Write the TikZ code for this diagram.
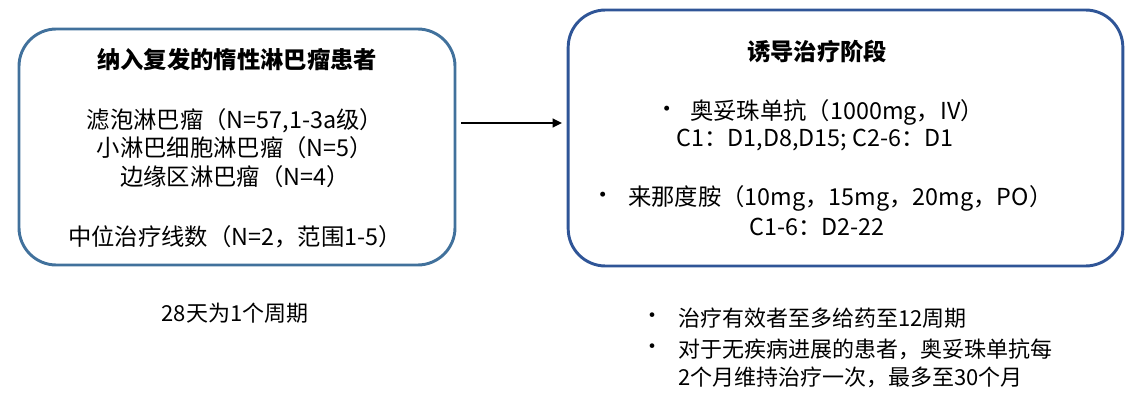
\documentclass[tikz,border=0pt]{standalone}
\usepackage{fontspec}
\setmainfont{Noto Sans CJK SC}
\usetikzlibrary{arrows.meta}
\definecolor{enrollblue}{RGB}{65,113,156}
\definecolor{inductblue}{RGB}{47,85,151}
\tikzset{
  phasebox/.style={draw, line width=2.2pt, rounded corners=28pt, inner sep=0pt},
  headtext/.style={font=\fontsize{17.5}{21}\selectfont\bfseries, inner sep=0pt},
  bodytext/.style={font=\fontsize{17.5}{21.4}\selectfont, inner sep=0pt, align=center},
  notetext/.style={font=\fontsize{16.5}{20}\selectfont, inner sep=0pt}
}
\begin{document}
\begin{tikzpicture}[x=0.75pt,y=-0.75pt]
\useasboundingbox (0,0) rectangle (1144,410);

% Boxes
\node[phasebox, enrollblue, minimum width=327pt, minimum height=177pt] (enroll) at (237,147) {};
\node[phasebox, inductblue, minimum width=416pt, minimum height=192pt] (induct) at (845.5,138) {};

% Left box text
\node[headtext] (enrollTitle) at (237,60) {纳入复发的惰性淋巴瘤患者};
\node[bodytext] (enrollTypes) at (235,148) {滤泡淋巴瘤（N=57,1-3a级）\\小淋巴细胞淋巴瘤（N=5）\\边缘区淋巴瘤（N=4）};
\node[bodytext] (enrollLines) at (235,237) {中位治疗线数（N=2，范围1-5）};

% Arrow
\coordinate (arrStart) at (461,123);
\coordinate (arrEnd) at (562,123);
\draw[line width=1.6pt, -{Triangle[length=7pt,width=6.5pt]}] (arrStart) -- (arrEnd);

% Right box text
\node[headtext] (inductTitle) at (817,52) {诱导治疗阶段};
\node[bodytext] (dotA) at (667,112) {•};
\node[bodytext, anchor=west] (drugA) at (690,112) {奥妥珠单抗（1000mg，IV）};
\node[bodytext] (drugAdays) at (815,140) {C1：D1,D8,D15; C2-6：D1};
\node[bodytext] (dotB) at (603,198) {•};
\node[bodytext, anchor=west] (drugB) at (628,198) {来那度胺（10mg，15mg，20mg，PO）};
\node[bodytext] (drugBdays) at (817,227) {C1-6：D2-22};

% Notes below
\node[notetext] (cycle) at (235,313) {28天为1个周期};
\node[notetext] (dotC) at (652,318) {•};
\node[notetext, anchor=west] (noteA) at (678,318) {治疗有效者至多给药至12周期};
\node[notetext] (dotD) at (652,349) {•};
\node[notetext, anchor=west] (noteB) at (678,349) {对于无疾病进展的患者，奥妥珠单抗每};
\node[notetext, anchor=west] (noteC) at (678,377) {2个月维持治疗一次，最多至30个月};

\end{tikzpicture}
\end{document}
